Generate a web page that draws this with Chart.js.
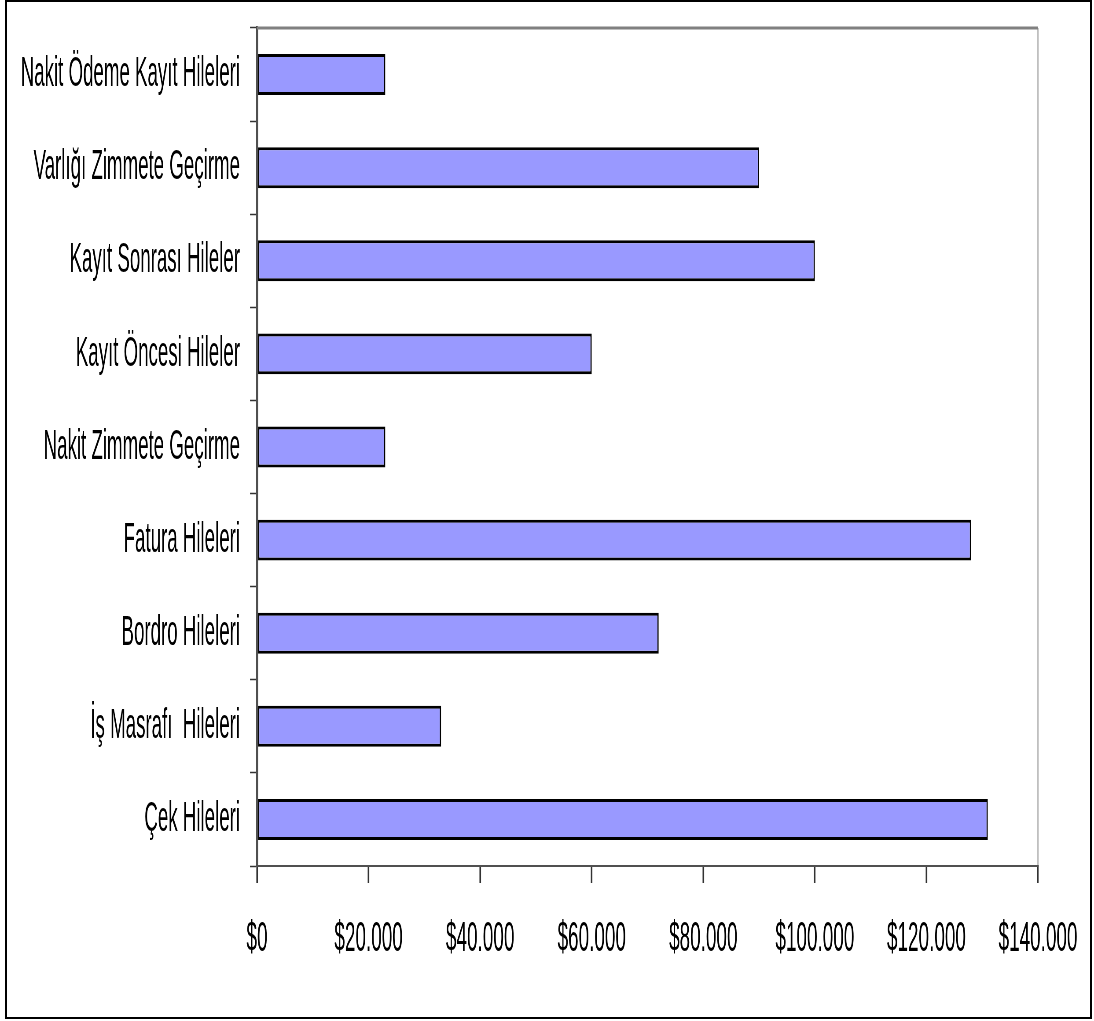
<!DOCTYPE html>
<html>
<head>
<meta charset="utf-8">
<title>Hile Türleri</title>
<script src="https://cdn.jsdelivr.net/npm/chart.js@4/dist/chart.umd.min.js"></script>
<style>
  html, body { margin: 0; padding: 0; background: #fff; overflow: hidden; }
  #wrap { position: relative; width: 1094px; height: 1021px; overflow: hidden; }
  #frame {
    position: absolute; left: 5px; top: 0; width: 1087px; height: 1019px;
    border: 2px solid #000; box-sizing: border-box; pointer-events: none;
  }
  /* the chart is laid out wide and squeezed back to page width, which gives the tall narrow lettering */
  #chart { position: absolute; left: 0; top: 0; transform-origin: 0 0; }
</style>
</head>
<body>
<div id="wrap">
  <canvas id="chart" width="2486" height="1021"></canvas>
  <div id="frame"></div>
</div>
<script>
var categories = [
  'Nakit Ödeme Kayıt Hileleri',
  'Varlığı Zimmete Geçirme',
  'Kayıt Sonrası Hileler',
  'Kayıt Öncesi Hileler',
  'Nakit Zimmete Geçirme',
  'Fatura Hileleri',
  'Bordro Hileleri',
  'İş Masrafı  Hileleri',
  'Çek Hileleri'
];
var amounts = [23000, 90000, 100000, 60000, 23000, 128000, 72000, 33000, 131000];

var xMin = 0;
var xMax = 140000;
var xStep = 20000;

var PAGE_W = 1094;
var PAGE_H = 1021;
var canvas = document.getElementById('chart');
var squeeze = PAGE_W / canvas.width;   // ~0.44
canvas.style.width = canvas.width + 'px';
canvas.style.height = canvas.height + 'px';
canvas.style.transform = 'scaleX(' + squeeze + ')';

// widths along x are in unsqueezed canvas units
function wx(px) { return px / squeeze; }

// plot box on the page
var plotLeft = 257, plotRight = 1038, plotTop = 28, plotBottom = 866;

function money(v) {
  return '$' + String(v).replace(/\B(?=(\d{3})+(?!\d))/g, '.');
}

// grey top edge of the plot area
var plotEdge = {
  id: 'plotEdge',
  beforeDatasetsDraw: function(chart) {
    var a = chart.chartArea;
    var ctx = chart.ctx;
    ctx.save();
    ctx.fillStyle = '#808080';
    ctx.fillRect(a.left, a.top - 1.5, a.right - a.left, 3);
    ctx.restore();
  }
};

var chart = new Chart(canvas, {
  type: 'bar',
  data: {
    labels: categories,
    datasets: [{
      data: amounts,
      backgroundColor: '#9999FF',
      borderColor: '#000000',
      borderWidth: 3,
      borderSkipped: false,
      categoryPercentage: 1,
      barPercentage: 0.44
    }]
  },
  plugins: [plotEdge],
  options: {
    indexAxis: 'y',
    responsive: false,
    devicePixelRatio: 1,
    animation: false,
    layout: {
      padding: { left: 0, top: plotTop, right: canvas.width - wx(plotRight), bottom: 0 }
    },
    plugins: {
      legend: { display: false },
      tooltip: { enabled: false },
      title: { display: false }
    },
    scales: {
      x: {
        type: 'linear',
        min: xMin,
        max: xMax,
        afterBuildTicks: function(scale) {
          var t = [];
          for (var v = xMin; v <= xMax; v += xStep) t.push({ value: v });
          scale.ticks = t;
        },
        afterFit: function(scale) {
          scale.height = PAGE_H - plotBottom;
          scale.paddingLeft = 0;
          scale.paddingRight = 0;
        },
        border: { display: true, color: '#505050', width: 2 },
        grid: {
          drawOnChartArea: true,
          // only the 140.000 line shows, as the light right edge of the plot
          color: function(ctx) {
            return ctx.tick && ctx.tick.value === xMax ? '#C0C0C0' : 'rgba(0,0,0,0)';
          },
          lineWidth: wx(2),
          tickColor: '#333333',
          tickWidth: wx(1.6),
          tickLength: 17
        },
        ticks: {
          autoSkip: false,
          maxRotation: 0,
          padding: 30,
          color: '#000',
          font: { family: '"Liberation Sans", Arial, sans-serif', size: 43 },
          callback: function(v) { return money(v); }
        }
      },
      y: {
        type: 'category',
        afterFit: function(scale) {
          scale.width = wx(plotLeft);
          scale.paddingTop = 0;
          scale.paddingBottom = 0;
        },
        border: { display: true, color: '#505050', width: wx(2) },
        grid: {
          offset: true,
          drawOnChartArea: false,
          tickColor: '#333333',
          tickWidth: 1.5,
          tickLength: wx(7)
        },
        ticks: {
          padding: wx(10),
          color: '#000',
          font: { family: '"Liberation Sans", Arial, sans-serif', size: 42.5 }
        }
      }
    }
  }
});
</script>
</body>
</html>
